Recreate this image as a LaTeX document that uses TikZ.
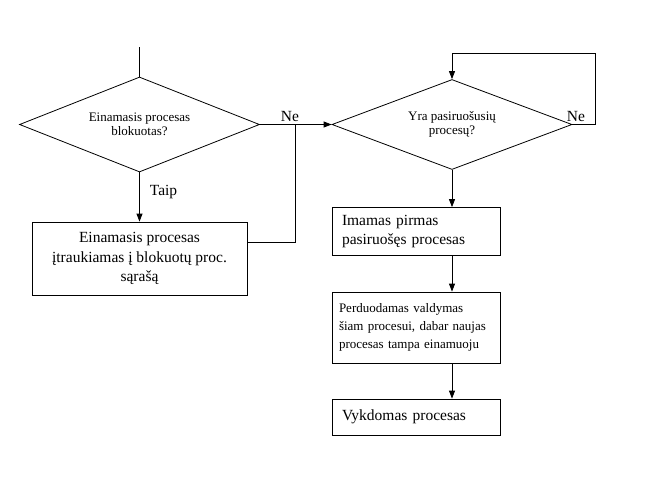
\documentclass[tikz,border=0pt]{standalone}
\usepackage{fontspec}
\setmainfont{Liberation Serif}
\usetikzlibrary{arrows.meta,shapes.geometric}

\begin{document}
\begin{tikzpicture}[x=1pt,y=-1pt,line width=0.8pt,
		sprendimas/.style={diamond,draw,aspect=2.5,inner sep=0pt,minimum width=240pt,align=center,font=\fontsize{13}{14}\selectfont},
		blokas/.style={draw,rectangle,inner xsep=10pt,inner ysep=0pt,font=\fontsize{15.5}{19.5}\selectfont},
		rodykle/.style={-{Triangle[width=6pt,length=8pt]}},
		zyme/.style={font=\fontsize{15.5}{18}\selectfont,inner sep=2pt}]
		\useasboundingbox (0,0) rectangle (660,493); %ribos
		\node[sprendimas,minimum height=95pt] (d1) at (139.5,124.5) {Einamasis procesas\\blokuotas?}; %kairys rombas
		\node[sprendimas,minimum height=90pt] (d2) at (452,124.5) {Yra pasiruošusių\\procesų?}; %desinys rombas
		\node[blokas,minimum width=215pt,minimum height=73pt,align=center] (b1) at (139.5,258.5) {Einamasis procesas\\įtraukiamas į blokuotų proc.\\sąrašą}; %blokavimas
		\node[blokas,text width=148pt,minimum height=48pt,align=left] (b2) at (416,231.5) {Imamas pirmas\\pasiruošęs procesas};
		\node[blokas,text width=154pt,inner xsep=7pt,minimum height=71pt,align=left,font=\fontsize{13}{18}\selectfont] (b3) at (416,327.5) {Perduodamas valdymas\\šiam procesui, dabar naujas\\procesas tampa einamuoju};
		\node[blokas,text width=148pt,minimum height=36pt,align=left] (b4) at (416,417) {Vykdomas procesas};
		\coordinate (pradzia) at (139.5,47); %iejimas
		\coordinate (j) at (295,124.5); %sujungimas
		\draw (pradzia) -- (d1.north);
		\draw[rodykle] (d1.east) -- node[zyme,pos=.42,above]{Ne} (d2.west);
		\draw[rodykle] (d1.south) -- node[zyme,pos=.4,right=8pt]{Taip} (b1.north);
		\draw ([yshift=16.5pt]b1.east) -| (j);
		\draw[rodykle] (d2.east) -- node[zyme,pos=.15,above]{Ne} ++(23,0) |- ([yshift=26pt]d2.north) -- (d2.north); %kilpa
		\draw[rodykle] (d2.south) -- (d2.south |- b2.north);
		\draw[rodykle] (d2.south |- b2.south) -- (d2.south |- b3.north);
		\draw[rodykle] (d2.south |- b3.south) -- (d2.south |- b4.north);
\end{tikzpicture}
\end{document}
